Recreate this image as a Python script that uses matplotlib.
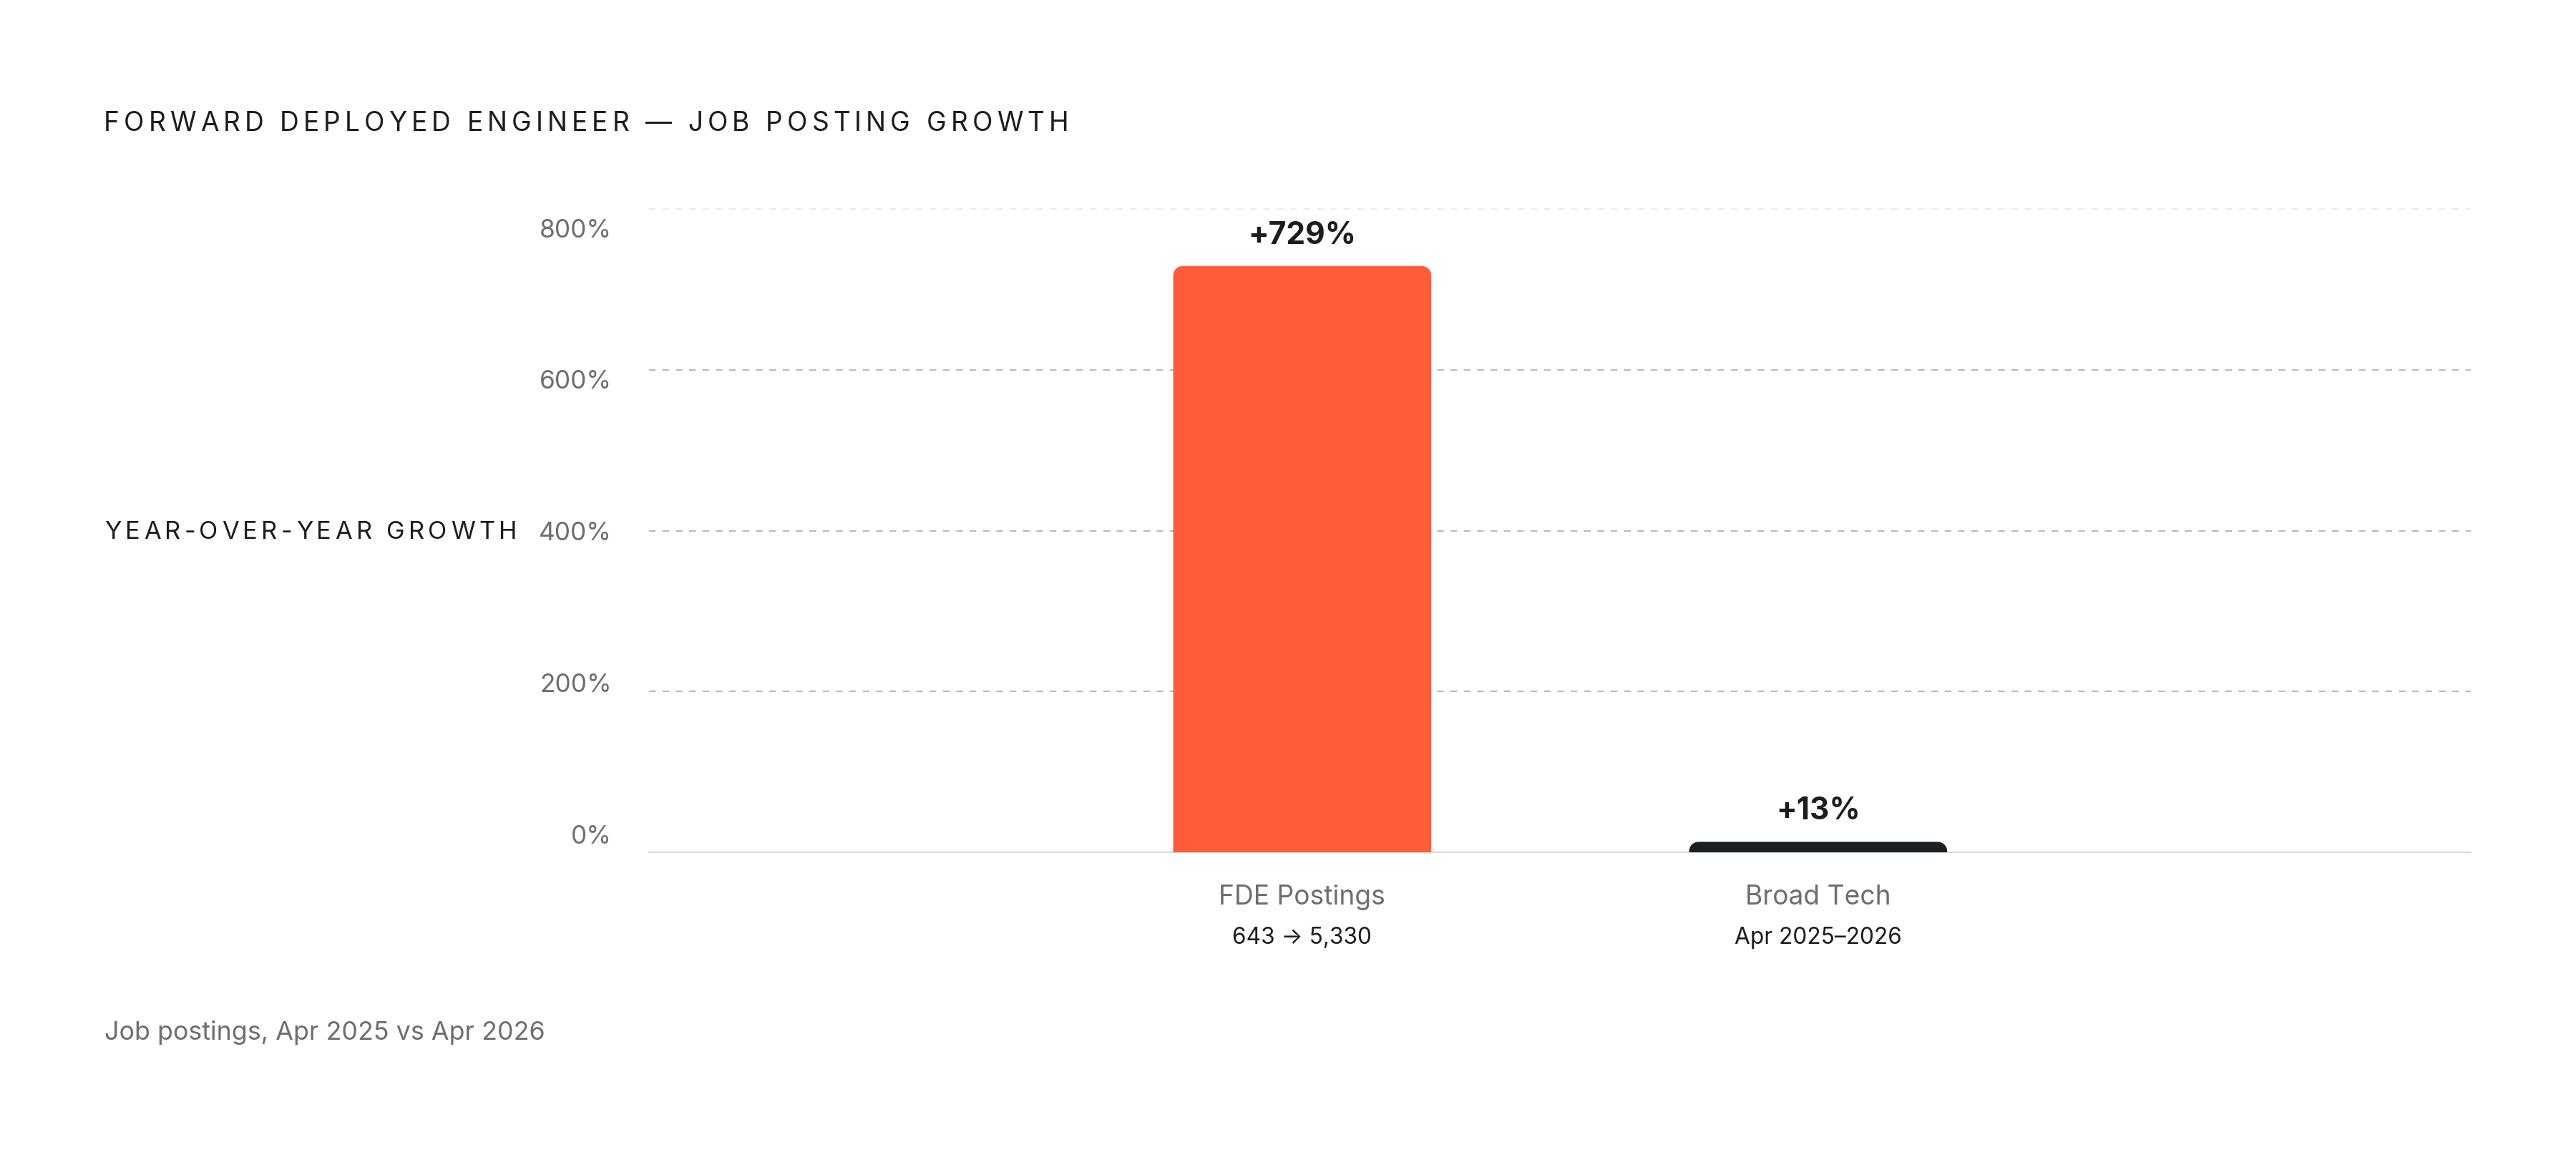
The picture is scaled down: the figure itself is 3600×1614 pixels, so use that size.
import matplotlib
matplotlib.use("Agg")
import matplotlib.pyplot as plt
from matplotlib.path import Path
from matplotlib.patches import PathPatch
from matplotlib.font_manager import FontProperties

# ---------------- data ----------------
categories = ["FDE Postings", "Broad Tech"]
sublabels = ["643 \u2192 5,330", "Apr 2025\u20132026"]
growth = [729, 13]
value_labels = ["+729%", "+13%"]
yticks = [0, 200, 400, 600, 800]
title = "FORWARD DEPLOYED ENGINEER \u2014 JOB POSTING GROWTH"
ylabel = "YEAR-OVER-YEAR GROWTH"
footnote = "Job postings, Apr 2025 vs Apr 2026"

# ---------------- style ----------------
FAM = ["Inter", "DejaVu Sans"]
plt.rcParams["font.family"] = FAM
DARK = "#1b1f1c"
GRAY = "#6e6e6e"
BAR_COLORS = ["#ff5c39", "#1c211e"]

W, H, DPI = 3600, 1614, 200
fig = plt.figure(figsize=(W / DPI, H / DPI), dpi=DPI)
fig.patch.set_facecolor("white")

ax_l, ax_r, ax_t, ax_b = 907, 3453, 292, 1191
ax = fig.add_axes([ax_l / W, 1 - ax_b / H, (ax_r - ax_l) / W, (ax_b - ax_t) / H])
ax.set_xlim(-1.266, 2.265)
ax.set_ylim(0, 800)
for s in ax.spines.values():
    s.set_visible(False)
ax.set_xticks([])
ax.set_yticks([])

# gridlines
for v in yticks:
    if v == 0:
        ax.axhline(v, color="#dcdcdc", lw=0.85, zorder=1, clip_on=False)
    elif v == yticks[-1]:
        ax.axhline(v, color="#ebebeb", lw=0.7, ls=(0, (4.8, 4.8)), zorder=0, clip_on=False)
    else:
        ax.axhline(v, color="#b8b8b8", lw=0.7, ls=(0, (4.8, 4.8)), zorder=0, clip_on=False)

# tick labels (HTML-like evenly spaced placement)
for v in yticks:
    ypos = v * 0.9425 + 10.7
    ax.annotate(f"{v}%", xy=(0, ypos), xycoords=("figure fraction", "data"),
                xytext=(855 * 72 / DPI, 0), textcoords="offset points",
                ha="right", va="baseline", fontsize=12.7, color=GRAY, annotation_clip=False)

# bars with rounded top corners
xpos = list(range(len(categories)))
bars = ax.bar(xpos, growth, width=0.5, color=BAR_COLORS, zorder=2)
fig.canvas.draw()
px_per_x = ax.transData.transform((1, 0))[0] - ax.transData.transform((0, 0))[0]
px_per_y = ax.transData.transform((0, 1))[1] - ax.transData.transform((0, 0))[1]
R = 13.0
k = 0.5523
for rect in bars:
    x0 = rect.get_x()
    w = rect.get_width()
    h = rect.get_height()
    x1 = x0 + w
    rx = R / px_per_x
    ry = min(R / px_per_y, h)
    verts = [
        (x0, 0), (x0, h - ry),
        (x0, h - ry + k * ry), (x0 + rx - k * rx, h), (x0 + rx, h),
        (x1 - rx, h),
        (x1 - rx + k * rx, h), (x1, h - ry + k * ry), (x1, h - ry),
        (x1, 0), (x0, 0),
    ]
    codes = [Path.MOVETO, Path.LINETO,
             Path.CURVE4, Path.CURVE4, Path.CURVE4,
             Path.LINETO,
             Path.CURVE4, Path.CURVE4, Path.CURVE4,
             Path.LINETO, Path.CLOSEPOLY]
    patch = PathPatch(Path(verts, codes), facecolor=rect.get_facecolor(),
                      edgecolor="none", zorder=2)
    ax.add_patch(patch)
    rect.remove()

# value labels
for x, v, lab in zip(xpos, growth, value_labels):
    ax.annotate(lab, xy=(x, v), xytext=(0, 31 * 72 / DPI), textcoords="offset points",
                ha="center", va="baseline", fontsize=15.3, fontweight="bold",
                color=DARK, annotation_clip=False)

# category labels
for x, c, s in zip(xpos, categories, sublabels):
    ax.annotate(c, xy=(x, 0), xytext=(0, -73 * 72 / DPI), textcoords="offset points",
                ha="center", va="baseline", fontsize=13.4, color=GRAY, annotation_clip=False)
    ax.annotate(s, xy=(x, 0), xytext=(0, -128 * 72 / DPI), textcoords="offset points",
                ha="center", va="baseline", fontsize=11.4, color=DARK, annotation_clip=False)


# letter-spaced text helper
def tracked_text(s, x_px, base_px, target_w, size, color, weight="normal"):
    fp = FontProperties(family=FAM, size=size, weight=weight)
    renderer = fig.canvas.get_renderer()
    widths = []
    for ch in s:
        if ch == " ":
            wsp, _, _ = renderer.get_text_width_height_descent("a a", fp, ismath=False)
            wa, _, _ = renderer.get_text_width_height_descent("aa", fp, ismath=False)
            widths.append(wsp - wa)
        else:
            wc, _, _ = renderer.get_text_width_height_descent(ch, fp, ismath=False)
            widths.append(wc)
    natural = sum(widths)
    track = (target_w - natural) / (len(s) - 1)
    x = x_px
    for ch, wc in zip(s, widths):
        if ch != " ":
            fig.text(x / W, 1 - base_px / H, ch, fontproperties=fp, color=color,
                     ha="left", va="baseline")
        x += wc + track


tracked_text(title, 145, 183, 1348, 13.37, DARK)
tracked_text(ylabel, 146, 753, 576, 12.4, DARK)

fig.text(146 / W, 1 - 1453 / H, footnote, fontsize=12.9, color=GRAY, ha="left", va="baseline")

fig.savefig("out.png", dpi=DPI, facecolor="white")
